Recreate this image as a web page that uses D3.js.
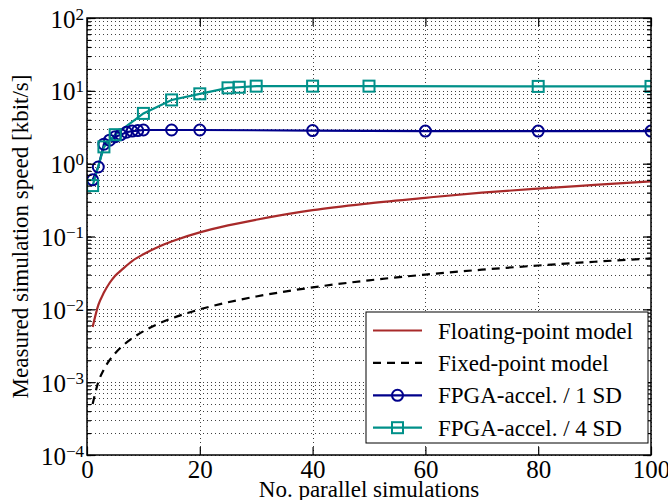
<!DOCTYPE html>
<html>
<head>
<meta charset="utf-8">
<script src="https://cdn.jsdelivr.net/npm/d3@7"></script>
<style>
  body { margin: 0; background: #fff; }
  text { font-family: "Liberation Serif", "DejaVu Serif", serif; fill: #000; }
</style>
</head>
<body>
<svg id="chart" width="668" height="500"></svg>
<script>
// Data
const modelSims = [1, 2, 3, 4, 5, 6, 8, 10, 13, 16, 20, 25, 30, 40, 50, 60, 70, 80, 90, 100];
const floatSpeed = [0.0057, 0.0114, 0.017, 0.023, 0.029, 0.034, 0.046, 0.057, 0.074, 0.091,
  0.114, 0.142, 0.17, 0.23, 0.285, 0.34, 0.4, 0.455, 0.51, 0.57];
const fixedSpeed = [0.0005, 0.001, 0.0015, 0.002, 0.0025, 0.003, 0.004, 0.005, 0.0065, 0.008,
  0.01, 0.0125, 0.015, 0.02, 0.025, 0.03, 0.035, 0.04, 0.045, 0.05];

const sd1Sims = [1, 2, 3, 4, 5, 6, 7, 8, 9, 10, 15, 20, 40, 60, 80, 100];
const sd1Speed = [0.6, 0.9, 1.85, 2.1, 2.35, 2.5, 2.7, 2.8, 2.85, 2.9, 2.9, 2.9, 2.85, 2.8, 2.8, 2.8];

const sd4Sims = [1, 3, 5, 10, 15, 20, 25, 27, 30, 40, 50, 80, 100];
const sd4Speed = [0.5, 1.7, 2.5, 4.9, 7.5, 9.1, 11.0, 11.2, 11.6, 11.6, 11.6, 11.5, 11.5];

const xTicks = [0, 20, 40, 60, 80, 100];
const yTicks = [1e-4, 1e-3, 1e-2, 1e-1, 1e0, 1e1, 1e2];
const yExponents = ["\u22124", "\u22123", "\u22122", "\u22121", "0", "1", "2"];
const legendLabels = ["Floating-point model", "Fixed-point model", "FPGA-accel. / 1 SD", "FPGA-accel. / 4 SD"];

// Layout
const LEFT = 87, RIGHT = 651, TOP = 18, BOTTOM = 455;
const COLORS = { float: "#a82a2a", fixed: "#000", sd1: "#00008b", sd4: "#009089" };

const svg = d3.select("#chart");

const x = d3.scaleLinear().domain([0, 100]).range([LEFT, RIGHT]);
const y = d3.scaleLog().domain([1e-4, 1e2]).range([BOTTOM, TOP]);

// Clip for the plot area
svg.append("clipPath").attr("id", "plot-clip")
  .append("rect")
  .attr("x", LEFT).attr("y", TOP)
  .attr("width", RIGHT - LEFT).attr("height", BOTTOM - TOP);

// Dotted grid: every log tick horizontally, major ticks vertically
const grid = svg.append("g").attr("class", "grid")
  .attr("stroke", "#000").attr("stroke-width", 1)
  .attr("stroke-dasharray", "1,3").attr("stroke-opacity", 0.75);

grid.selectAll(".hgrid")
  .data(y.ticks())
  .join("line")
  .attr("x1", LEFT).attr("x2", RIGHT)
  .attr("y1", (d) => Math.round(y(d)) + 0.5)
  .attr("y2", (d) => Math.round(y(d)) + 0.5);

grid.selectAll(".vgrid")
  .data(xTicks)
  .join("line")
  .attr("y1", TOP).attr("y2", BOTTOM)
  .attr("x1", (d) => Math.round(x(d)) + 0.5)
  .attr("x2", (d) => Math.round(x(d)) + 0.5);

// Lines
const plot = svg.append("g").attr("clip-path", "url(#plot-clip)");

const line = d3.line()
  .x((d) => x(d[0]))
  .y((d) => y(d[1]))
  .curve(d3.curveMonotoneX);

plot.append("path")
  .datum(d3.zip(modelSims, floatSpeed))
  .attr("d", line)
  .attr("fill", "none")
  .attr("stroke", COLORS.float)
  .attr("stroke-width", 2.2);

plot.append("path")
  .datum(d3.zip(modelSims, fixedSpeed))
  .attr("d", line)
  .attr("fill", "none")
  .attr("stroke", COLORS.fixed)
  .attr("stroke-width", 2.2)
  .attr("stroke-dasharray", "8,6");

const straight = d3.line().x((d) => x(d[0])).y((d) => y(d[1]));

plot.append("path")
  .datum(d3.zip(sd1Sims, sd1Speed))
  .attr("d", straight)
  .attr("fill", "none")
  .attr("stroke", COLORS.sd1)
  .attr("stroke-width", 2.2);

plot.append("path")
  .datum(d3.zip(sd4Sims, sd4Speed))
  .attr("d", straight)
  .attr("fill", "none")
  .attr("stroke", COLORS.sd4)
  .attr("stroke-width", 2.2);

// Markers
plot.selectAll(".sd1-marker")
  .data(d3.zip(sd1Sims, sd1Speed))
  .join("circle")
  .attr("cx", (d) => x(d[0]))
  .attr("cy", (d) => y(d[1]))
  .attr("r", 5.5)
  .attr("fill", "none")
  .attr("stroke", COLORS.sd1)
  .attr("stroke-width", 2);

plot.selectAll(".sd4-marker")
  .data(d3.zip(sd4Sims, sd4Speed))
  .join("rect")
  .attr("x", (d) => x(d[0]) - 5.5)
  .attr("y", (d) => y(d[1]) - 5.5)
  .attr("width", 11)
  .attr("height", 11)
  .attr("fill", "none")
  .attr("stroke", COLORS.sd4)
  .attr("stroke-width", 2);

// Axes with inward ticks on all four sides
const styleAxis = (g) => {
  g.select(".domain").remove();
  g.selectAll(".tick line").attr("stroke", "#000").attr("stroke-width", 1.2);
};

svg.append("g")
  .attr("transform", `translate(0,${BOTTOM})`)
  .call(d3.axisBottom(x).tickValues(xTicks).tickSize(-8).tickPadding(5))
  .call(styleAxis)
  .call((g) => g.selectAll(".tick text").attr("font-size", 25).attr("font-family", "Liberation Serif"));

svg.append("g")
  .attr("transform", `translate(0,${TOP})`)
  .call(d3.axisTop(x).tickValues(xTicks).tickSize(-8).tickFormat(""))
  .call(styleAxis);

// Minor y ticks
svg.append("g")
  .attr("transform", `translate(${LEFT},0)`)
  .call(d3.axisLeft(y).tickValues(y.ticks()).tickSize(-4).tickFormat(""))
  .call(styleAxis);

svg.append("g")
  .attr("transform", `translate(${RIGHT},0)`)
  .call(d3.axisRight(y).tickValues(y.ticks()).tickSize(-4).tickFormat(""))
  .call(styleAxis);

// Major y ticks with 10^n labels
const yLeft = svg.append("g")
  .attr("transform", `translate(${LEFT},0)`)
  .call(d3.axisLeft(y).tickValues(yTicks).tickSize(-8).tickFormat(""))
  .call(styleAxis);

yLeft.selectAll(".tick text").remove();
yLeft.selectAll(".tick").each(function (d, i) {
  const t = d3.select(this).append("text")
    .attr("x", -3)
    .attr("y", 9)
    .attr("text-anchor", "end")
    .attr("font-size", 25);
  t.append("tspan").text("10");
  t.append("tspan")
    .attr("dy", -8)
    .attr("font-size", 17)
    .text(yExponents[i]);
});

svg.append("g")
  .attr("transform", `translate(${RIGHT},0)`)
  .call(d3.axisRight(y).tickValues(yTicks).tickSize(-8).tickFormat(""))
  .call(styleAxis);

// Frame
svg.append("rect")
  .attr("x", LEFT).attr("y", TOP)
  .attr("width", RIGHT - LEFT).attr("height", BOTTOM - TOP)
  .attr("fill", "none")
  .attr("stroke", "#000")
  .attr("stroke-width", 1.5);

// Axis labels
svg.append("text")
  .attr("x", (LEFT + RIGHT) / 2)
  .attr("y", 497)
  .attr("text-anchor", "middle")
  .attr("font-size", 23)
  .text("No. parallel simulations");

svg.append("text")
  .attr("transform", `translate(28,${(TOP + BOTTOM) / 2}) rotate(-90)`)
  .attr("text-anchor", "middle")
  .attr("font-size", 23)
  .text("Measured simulation speed [kbit/s]");

// Legend
const legend = svg.append("g").attr("class", "legend");
legend.append("rect")
  .attr("x", 366).attr("y", 312)
  .attr("width", 282).attr("height", 131)
  .attr("fill", "#fff")
  .attr("stroke", "#000")
  .attr("stroke-width", 1);

const legendKeys = ["float", "fixed", "sd1", "sd4"];
legendKeys.forEach((key, i) => {
  const rowY = 330.5 + i * 32.4;
  const row = legend.append("g").attr("transform", `translate(0,${rowY})`);
  row.append("line")
    .attr("x1", 373).attr("x2", 422)
    .attr("y1", 0).attr("y2", 0)
    .attr("stroke", COLORS[key])
    .attr("stroke-width", 2.2)
    .attr("stroke-dasharray", key === "fixed" ? "8,6" : null);
  if (key === "sd1") {
    row.append("circle")
      .attr("cx", 397.5).attr("cy", 0).attr("r", 5.5)
      .attr("fill", "none").attr("stroke", COLORS.sd1).attr("stroke-width", 2);
  }
  if (key === "sd4") {
    row.append("rect")
      .attr("x", 392).attr("y", -5.5).attr("width", 11).attr("height", 11)
      .attr("fill", "none").attr("stroke", COLORS.sd4).attr("stroke-width", 2);
  }
  row.append("text")
    .attr("x", 438)
    .attr("y", 8)
    .attr("font-size", 23)
    .text(legendLabels[i]);
});
</script>
</body>
</html>
